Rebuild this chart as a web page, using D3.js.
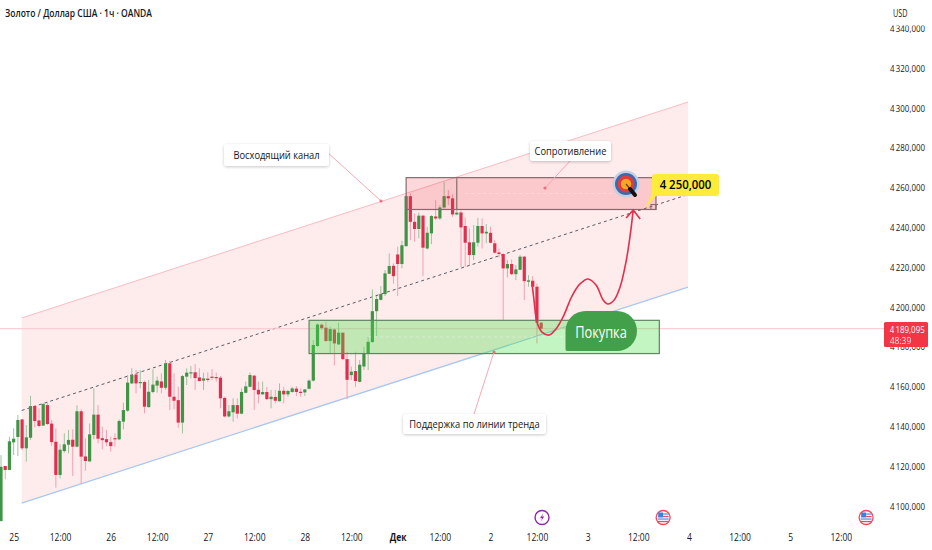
<!doctype html>
<html lang="ru">
<head>
<meta charset="utf-8">
<title>Золото / Доллар США</title>
<style>
  html, body { margin: 0; padding: 0; background: #fff; }
  svg { display: block; }
  text { font-family: "Open Sans", "Noto Sans", sans-serif; fill: #131722; }
</style>
</head>
<body>
<div id="chart"></div>
<script src="https://d3js.org/d3.v7.min.js"></script>
<script>
// hourly candles
var opens = [4092.4,4120.1,4118.1,4132.0,4134.7,4143.5,4129.0,4134.3,4150.2,4143.0,4140.4,4150.7,4141.4,4132.3,4115.6,4127.6,4130.8,4133.3,4129.8,4147.6,4124.9,4122.4,4135.7,4145.9,4134.1,4133.6,4132.1,4134.1,4133.5,4142.4,4147.9,4161.6,4166.1,4161.8,4162.3,4149.7,4157.3,4160.5,4162.6,4159.4,4171.7,4154.9,4153.2,4141.9,4165.0,4166.7,4167.2,4164.6,4163.0,4164.0,4165.0,4164.8,4164.5,4154.3,4145.0,4147.1,4150.7,4146.4,4156.9,4159.9,4165.5,4158.4,4156.1,4157.3,4153.7,4154.8,4152.7,4157.9,4156.1,4157.3,4159.0,4157.4,4157.1,4158.9,
  4163.0,4180.4,4191.1,4189.6,4182.9,4188.7,4181.2,4187.1,4173.8,4165.8,4167.8,4162.4,4170.1,4176.5,4182.4,4197.9,4203.6,4206.5,4216.7,4220.7,4226.4,4221.6,4230.6,4255.7,4242.8,4239.2,4245.9,4229.4,4237.0,4245.5,4244.5,4250.0,4255.7,4254.6,4246.5,4247.5,4240.7,4232.5,4226.1,4232.3,4240.7,4237.0,4237.3,4232.0,4227.4,4226.6,4219.4,4221.6,4216.5,4218.7,4225.3,4212.7,4213.2,4210.2,4192.1];
var highs = [4125.6,4120.1,4134.8,4139.0,4145.7,4143.7,4140.7,4155.4,4150.6,4149.1,4151.9,4151.9,4143.2,4139.0,4131.0,4136.5,4138.2,4138.5,4150.6,4148.6,4134.0,4141.5,4159.1,4150.7,4139.9,4138.2,4134.8,4136.5,4143.5,4151.9,4165.8,4169.2,4168.3,4168.3,4163.0,4163.3,4168.7,4165.0,4166.7,4173.4,4173.0,4166.7,4160.0,4165.8,4169.2,4170.3,4171.3,4169.2,4167.0,4167.2,4168.8,4167.0,4165.3,4154.9,4150.7,4154.1,4154.1,4159.1,4162.5,4167.0,4165.8,4162.5,4162.5,4159.9,4158.3,4158.3,4161.6,4159.9,4158.3,4159.9,4160.3,4159.1,4158.6,4163.6,
  4183.4,4191.8,4191.8,4192.6,4190.1,4189.2,4192.1,4187.2,4177.5,4170.0,4177.5,4173.3,4180.0,4185.0,4208.8,4205.5,4210.5,4218.6,4226.9,4221.9,4230.3,4233.3,4256.2,4257.1,4247.0,4247.4,4246.2,4240.3,4246.2,4253.7,4251.2,4262.9,4258.7,4256.7,4263.8,4248.4,4245.0,4239.5,4241.2,4244.8,4244.5,4241.7,4240.3,4233.6,4229.4,4226.9,4223.6,4223.9,4221.1,4226.1,4225.6,4216.0,4215.5,4211.8,4192.6];
var lows = [4092.4,4113.4,4118.1,4125.6,4125.1,4128.1,4122.3,4133.2,4139.5,4139.5,4140.2,4140.7,4130.1,4109.2,4113.9,4126.8,4126.4,4115.1,4129.5,4111.0,4117.7,4122.3,4133.5,4131.5,4128.5,4130.1,4127.3,4129.8,4133.2,4138.5,4147.4,4161.3,4156.6,4159.1,4146.6,4149.4,4156.6,4156.9,4156.6,4158.3,4148.2,4148.6,4139.3,4136.5,4160.8,4164.1,4158.3,4162.5,4158.3,4162.5,4163.3,4162.5,4149.1,4144.5,4144.5,4142.4,4144.0,4146.2,4156.6,4159.6,4148.2,4151.6,4155.8,4153.2,4149.1,4151.6,4152.4,4151.6,4154.9,4156.9,4155.3,4154.9,4155.3,4158.6,
  4162.6,4180.0,4188.4,4182.5,4176.3,4170.6,4180.9,4173.3,4153.7,4163.3,4159.9,4162.1,4168.3,4168.3,4182.0,4185.4,4203.3,4205.5,4216.5,4211.8,4205.5,4219.4,4230.3,4233.6,4232.8,4234.5,4215.5,4228.9,4231.6,4243.7,4243.7,4249.5,4251.2,4245.3,4246.2,4220.2,4220.2,4221.1,4223.6,4230.3,4229.4,4232.0,4232.0,4226.9,4224.9,4193.4,4214.9,4216.0,4213.5,4218.5,4203.5,4210.2,4209.8,4181.7,4188.4];
var closes = [4119.7,4118.1,4132.5,4133.8,4143.2,4129.0,4134.5,4150.2,4142.7,4140.2,4151.2,4141.2,4132.1,4115.6,4128.3,4131.0,4133.2,4129.8,4147.6,4124.8,4122.6,4136.0,4145.9,4133.8,4133.1,4132.0,4130.1,4133.6,4142.7,4148.2,4162.0,4165.8,4161.6,4162.3,4149.9,4157.4,4161.0,4163.0,4159.4,4171.7,4154.9,4152.9,4141.9,4165.3,4167.0,4167.2,4164.3,4162.8,4164.1,4163.3,4164.5,4164.3,4154.1,4145.0,4147.6,4150.7,4146.4,4157.3,4160.1,4165.8,4158.3,4156.1,4157.3,4153.7,4154.9,4152.9,4157.9,4156.1,4157.8,4159.1,4157.3,4156.8,4158.6,4163.0,
  4180.9,4191.2,4189.4,4182.9,4188.9,4181.7,4187.1,4173.8,4163.4,4167.5,4162.8,4171.0,4176.7,4182.5,4197.9,4204.0,4206.5,4216.9,4220.6,4215.5,4221.6,4231.0,4255.7,4242.8,4239.2,4245.9,4229.8,4237.3,4245.7,4244.5,4250.0,4255.7,4254.6,4246.5,4247.4,4240.0,4232.3,4226.1,4232.5,4240.7,4237.0,4237.8,4232.3,4227.3,4226.6,4219.4,4221.6,4216.5,4218.9,4225.3,4213.0,4213.4,4210.2,4192.1,4189.095];

// axis labels
var priceTicks = d3.range(4100, 4341, 20);
var timeTickIdx = [3,14,26,37,49,60,72,83,94,104,116,127,139,151,163,175,187,199];
var timeTickLabels = ["25","12:00","26","12:00","27","12:00","28","12:00","Дек","12:00","2","12:00","3","12:00","4","12:00","5","12:00"];

// drawings on the chart: candle index / price
var channelIdx = [4.9, 162.8];
var channelUpper = [4194.5, 4303];
var channelMid = [4148, 4256.5];
var channelLower = [4101.5, 4210];
var resistanceIdx = [96, 155.2], resistanceSplit = 108, resistancePrice = [4249, 4265];
var supportIdx = [73, 156], supportPrice = [4176.6, 4193.3];
var lastPrice = 4189.095;
var pathIdx = [125.8,126.3,127,128.2,129.9,131.5,133.2,135.3,137.2,139.1,141,142.7,143.8,145.3,146.7,148.1,149.1,149.8];
var pathPrice = [4212.6,4203.5,4192.5,4187.4,4185.9,4188.9,4195,4205.5,4211.6,4214.1,4211,4203.5,4201.5,4203.5,4210,4222.6,4236.2,4248.7];
var eventIdx = [128.2, 156.9, 205];
var eventKind = ["bolt", "us", "us"];

var width = 932, height = 550;
var green = "#3f9445", red = "#e02f4e";

var svg = d3.select("#chart").append("svg")
  .attr("width", width)
  .attr("height", height);

var x = d3.scaleLinear().domain([0, 199]).range([1, 840.8]);
var y = d3.scaleLinear().domain([4100, 4340]).range([506, 28.4]);

// the reference type is narrower than any installed face, so squeeze it
function squeeze(sel, f) {
  sel.each(function() {
    this.setAttribute("textLength", this.getComputedTextLength() * f);
    this.setAttribute("lengthAdjust", "spacingAndGlyphs");
  });
}

var defs = svg.append("defs");
var shadow = defs.append("filter").attr("id", "shadow")
  .attr("x", "-20%").attr("y", "-30%").attr("width", "140%").attr("height", "170%");
shadow.append("feDropShadow").attr("dx", 0).attr("dy", 1).attr("stdDeviation", 1.6)
  .attr("flood-color", "#000").attr("flood-opacity", 0.22);

// channel
var band = d3.area()
  .x(function(d) { return x(d.i); })
  .y0(function(d) { return y(d.lo); })
  .y1(function(d) { return y(d.hi); });
svg.append("path")
  .attr("d", band(channelIdx.map(function(d, k) { return {i: d, lo: channelLower[k], hi: channelUpper[k]}; })))
  .attr("fill", "#feebec");

function channelLine(values, color, dash, w) {
  svg.append("line")
    .attr("x1", x(channelIdx[0])).attr("y1", y(values[0]))
    .attr("x2", x(channelIdx[1])).attr("y2", y(values[1]))
    .attr("stroke", color)
    .attr("stroke-width", w)
    .attr("stroke-dasharray", dash);
}
channelLine(channelUpper, "#f9bcc4", null, 1);
channelLine(channelLower, "#a9c8f0", null, 1.3);
channelLine(channelMid, "#5a5a62", "3 3", 1);

// last price line
svg.append("line")
  .attr("x1", 0).attr("x2", 886)
  .attr("y1", y(lastPrice)).attr("y2", y(lastPrice))
  .attr("stroke", "#f9c6cd");

// candles
var candles = opens.map(function(o, i) {
  return {i: i, o: o, h: highs[i], l: lows[i], c: closes[i]};
});
var g = svg.append("g");
g.selectAll(".wick").data(candles).enter().append("line")
  .attr("class", "wick")
  .attr("x1", function(d) { return x(d.i); })
  .attr("x2", function(d) { return x(d.i); })
  .attr("y1", function(d) { return y(d.h); })
  .attr("y2", function(d) { return y(d.l); })
  .attr("stroke", function(d) { return d.c >= d.o ? "#9cc49e" : "#f3a0b0"; });
g.selectAll(".body").data(candles).enter().append("rect")
  .attr("class", "body")
  .attr("x", function(d) { return x(d.i) - 1.6; })
  .attr("width", 3.2)
  .attr("y", function(d) { return y(Math.max(d.o, d.c)); })
  .attr("height", function(d) { return Math.max(1.2, Math.abs(y(d.o) - y(d.c))); })
  .attr("fill", function(d) { return d.c >= d.o ? green : red; });

// zones
function zone(idx, price, fill, border) {
  svg.append("rect")
    .attr("x", x(idx[0])).attr("width", x(idx[1]) - x(idx[0]))
    .attr("y", y(price[1])).attr("height", y(price[0]) - y(price[1]))
    .attr("fill", fill)
    .attr("stroke", border)
    .attr("stroke-width", 1.2);
  svg.append("line")
    .attr("x1", x(idx[0] + 14)).attr("x2", x(idx[1] - 10))
    .attr("y1", y(d3.mean(price))).attr("y2", y(d3.mean(price)))
    .attr("stroke", "#fff").attr("stroke-opacity", 0.35)
    .attr("stroke-dasharray", "3 3");
}
zone(resistanceIdx, resistancePrice, "rgba(240,60,75,0.2)", "#87696d");
zone(supportIdx, supportPrice, "rgba(70,225,70,0.33)", "#5f8563");
svg.append("line")
  .attr("x1", x(resistanceSplit)).attr("x2", x(resistanceSplit))
  .attr("y1", y(resistancePrice[1])).attr("y2", y(resistancePrice[0]))
  .attr("stroke", "#87696d");
// resize handle at the corner of the box
svg.append("rect")
  .attr("x", x(resistanceIdx[1]) - 5).attr("y", y(resistancePrice[0]) - 5)
  .attr("width", 5).attr("height", 5)
  .attr("fill", "none").attr("stroke", "#87696d");

// forecast curve
var curve = d3.line()
  .x(function(d) { return x(d.i); })
  .y(function(d) { return y(d.p); })
  .curve(d3.curveCatmullRom);
svg.append("path")
  .attr("d", curve(pathIdx.map(function(d, k) { return {i: d, p: pathPrice[k]}; })))
  .attr("fill", "none")
  .attr("stroke", "#e22f4d")
  .attr("stroke-width", 1.6);
var tipX = x(pathIdx[pathIdx.length - 1]), tipY = y(pathPrice[pathPrice.length - 1]);
svg.append("path")
  .attr("d", d3.line()([[tipX - 7, tipY + 8], [tipX, tipY], [tipX + 7, tipY + 9]]))
  .attr("fill", "none")
  .attr("stroke", "#e22f4d")
  .attr("stroke-width", 1.6);

// callouts
function callout(label, bx, by, bw, bh, fromX, fromY, toX, toY) {
  svg.append("line")
    .attr("x1", fromX).attr("y1", fromY).attr("x2", toX).attr("y2", toY)
    .attr("stroke", "#f6a9b4");
  svg.append("circle")
    .attr("cx", toX).attr("cy", toY).attr("r", 1.6)
    .attr("fill", "#ef6f82");
  svg.append("rect")
    .attr("x", bx).attr("y", by).attr("width", bw).attr("height", bh)
    .attr("rx", 3)
    .attr("fill", "#fff")
    .attr("filter", "url(#shadow)");
  svg.append("text")
    .attr("x", bx + bw / 2).attr("y", by + bh / 2 + 3.8)
    .attr("text-anchor", "middle")
    .attr("font-size", 10.6)
    .text(label)
    .call(squeeze, 0.88);
}
callout("Восходящий канал", 224, 144, 105, 22, 327, 152, 381, 201);
callout("Сопротивление", 530, 141, 81, 20, 570, 161, 545, 188);
callout("Поддержка по линии тренда", 403, 414, 143, 20, 474, 414, 494, 352);

// buy badge
svg.append("path")
  .attr("d", "M567,351 Q565.5,351 565.5,349 L565.5,331 A20,20 0 0 1 585.5,311 L617,311 A20,20 0 0 1 617,351 Z")
  .attr("fill", "#43a04a");
svg.append("text")
  .attr("x", 601).attr("y", 337.5)
  .attr("text-anchor", "middle")
  .attr("font-size", 16)
  .style("fill", "#fff")
  .text("Покупка")
  .call(squeeze, 0.8);

// target icon
var target = svg.append("g").attr("transform", "translate(626,184)");
[[13.5, "#c3d0e2"], [11, "#3c6aae"], [8.4, "#e23b3b"], [5.2, "#f5a623"]].forEach(function(d) {
  target.append("circle").attr("r", d[0]).attr("fill", d[1]);
});
target.append("line")
  .attr("x1", 0).attr("y1", 0).attr("x2", 5).attr("y2", 6)
  .attr("stroke", "#7a3a20").attr("stroke-width", 1.2);
target.append("line")
  .attr("x1", 4).attr("y1", 5).attr("x2", 9).attr("y2", 11)
  .attr("stroke", "#111").attr("stroke-width", 4).attr("stroke-linecap", "round");

// target price label
svg.append("path")
  .attr("d", "M655,174 L716,174 Q719,174 719,177 L719,193 Q719,196 716,196 L656,196 L645,208 L652,194 L652,177 Q652,174 655,174 Z")
  .attr("fill", "#ffeb3b");
svg.append("text")
  .attr("x", 685.5).attr("y", 188.5)
  .attr("text-anchor", "middle")
  .attr("font-size", 12)
  .attr("font-weight", 600)
  .style("fill", "#000")
  .text("4 250,000")
  .call(squeeze, 0.95);

// axes
var fmtPrice = function(v) { return String(v).charAt(0) + "\u2009" + String(v).slice(1) + ",000"; };
var yAxis = svg.append("g")
  .attr("transform", "translate(885,0)")
  .call(d3.axisRight(y).tickValues(priceTicks).tickSize(0).tickPadding(5).tickFormat(fmtPrice));
yAxis.select(".domain").remove();
yAxis.selectAll("text").style("font-family", null).attr("font-size", 9.4)
  .attr("textLength", 35).attr("lengthAdjust", "spacingAndGlyphs");

var xAxis = svg.append("g")
  .attr("transform", "translate(0,528)")
  .call(d3.axisBottom(x).tickValues(timeTickIdx).tickSize(0).tickPadding(6)
    .tickFormat(function(d, k) { return timeTickLabels[k]; }));
xAxis.select(".domain").remove();
xAxis.selectAll("text").style("font-family", null).attr("font-size", 10)
  .attr("font-weight", function(d, k) { return timeTickLabels[k] == "Дек" ? 700 : 400; })
  .call(squeeze, 0.85);

// currency box masks the top tick a bit
svg.append("rect").attr("x", 886).attr("y", 2).attr("width", 46).attr("height", 23.5).attr("fill", "#fff");
svg.append("text").attr("x", 893).attr("y", 16.5).attr("font-size", 10).text("USD")
  .attr("textLength", 14.5).attr("lengthAdjust", "spacingAndGlyphs");

// last price tag
svg.append("rect")
  .attr("x", 884).attr("y", 322).attr("width", 44).attr("height", 25)
  .attr("rx", 1.5)
  .attr("fill", "#f23645");
svg.append("text").attr("x", 889.7).attr("y", 332.5).attr("font-size", 9.4).style("fill", "#fff").text("4\u2009189,095")
  .attr("textLength", 35).attr("lengthAdjust", "spacingAndGlyphs");
svg.append("text").attr("x", 889.7).attr("y", 344).attr("font-size", 9.4).style("fill", "#fff").style("opacity", 0.85).text("48:39")
  .call(squeeze, 0.9);

// event icons under the chart
eventIdx.forEach(function(d, k) {
  var ev = svg.append("g").attr("transform", "translate(" + x(d) + ",517.5)");
  if (eventKind[k] == "bolt") {
    ev.append("circle").attr("r", 7).attr("fill", "#fff").attr("stroke", "#8e24aa").attr("stroke-width", 1.4);
    ev.append("path").attr("d", "M1.5,-4.5 L-2,0.8 L0.2,0.8 L-1.5,4.5 L2.2,-1 L0,-1 Z").attr("fill", "#8e24aa");
  } else {
    ev.append("circle").attr("r", 7).attr("fill", "#fff").attr("stroke", "#ec4a5a").attr("stroke-width", 1.3);
    ev.append("rect").attr("x", -5).attr("y", -5).attr("width", 5).attr("height", 5).attr("fill", "#3f7fe0");
    [-3.5, -1, 1.5, 4].forEach(function(s, n) {
      ev.append("rect")
        .attr("x", n < 2 ? 0 : -5.5).attr("y", s - 0.6)
        .attr("width", n < 2 ? 5.5 : 11).attr("height", 1.3)
        .attr("fill", n % 2 ? "#ec4a5a" : "#5b93e8");
    });
  }
});

// title
svg.append("text")
  .attr("x", 5).attr("y", 16.5)
  .attr("font-size", 10.8)
  .attr("font-weight", 600)
  .text("Золото / Доллар США · 1ч · OANDA")
  .attr("textLength", 147).attr("lengthAdjust", "spacingAndGlyphs");
</script>
</body>
</html>
